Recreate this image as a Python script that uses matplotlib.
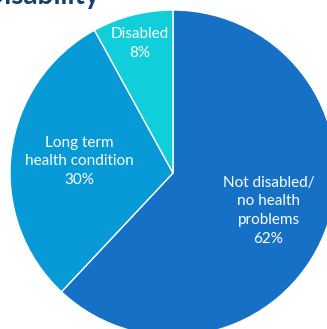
import numpy as np
import matplotlib
matplotlib.use("Agg")
import matplotlib.pyplot as plt

categories = ["Not disabled/\nno health\nproblems", "Long term\nhealth condition", "Disabled"]
values = [62, 30, 8]
colors = ["#1671C6", "#079AD6", "#10CEDA"]
label_frac = [0.63, 0.58, 0.82]
title = "Disability"

W, H = 327, 329
fig = plt.figure(figsize=(W / 100, H / 100), dpi=100)
ax = fig.add_axes([0, 0, 1, 1])

cx, cy, R = 173, H - 173, 163
wedges, _ = ax.pie(values, colors=colors, startangle=90, counterclock=False,
                   center=(cx, cy), radius=R, frame=True,
                   wedgeprops=dict(edgecolor="white", linewidth=1.0))
ax.set_xlim(0, W)
ax.set_ylim(0, H)
ax.axis("off")

total = sum(values)
for w, cat, v, f in zip(wedges, categories, values, label_frac):
    mid = np.deg2rad((w.theta1 + w.theta2) / 2)
    x = cx + f * R * np.cos(mid)
    y = cy + f * R * np.sin(mid)
    ax.text(x, y, f"{cat}\n{round(100 * v / total)}%", ha="center", va="center",
            color="white", fontsize=11, family="Lato", linespacing=1.42)

fig.text(100 / W, 1 - 4 / H, title, ha="right", va="baseline", color="#163E74",
         fontsize=20, fontweight="bold", family="Lato")

fig.savefig("out.png", dpi=100)
